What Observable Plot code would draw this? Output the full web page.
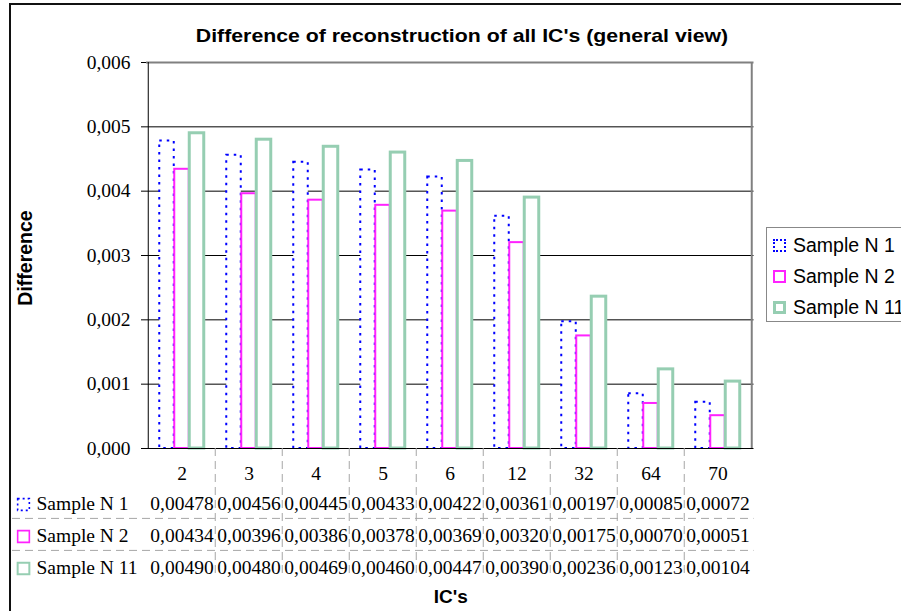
<!DOCTYPE html>
<html>
<head>
<meta charset="utf-8">
<script src="https://cdn.jsdelivr.net/npm/d3@7"></script>
<script src="https://cdn.jsdelivr.net/npm/@observablehq/plot@0.6"></script>
<style>
  html, body { margin: 0; padding: 0; background: #fff; overflow: hidden; }
  #chart { position: relative; width: 901px; height: 611px; overflow: hidden; background: #fff; }
  #chart > * { position: absolute; }
  #chart svg { overflow: visible; background: transparent !important; }
  .outer { left: 9px; top: 3px; width: 1200px; height: 1200px; border-left: 2.5px solid #111; border-top: 2px solid #111; }
  .sans { font-family: "Liberation Sans", Arial, sans-serif; font-weight: bold; line-height: 1; color: #000; white-space: nowrap; }
  .title { left: 0; width: 924px; top: 26.8px; font-size: 18.5px; text-align: center; transform: scaleX(1.15); transform-origin: 462px 0; }
  .xlabel { left: 400px; width: 101.6px; top: 586.9px; font-size: 19px; text-align: center; }
  .ylabel { left: 25.5px; top: 258px; font-size: 19.5px; transform: translate(-50%, -50%) rotate(-90deg); }
  .legend { left: 766px; top: 227px; width: 170px; height: 95px; box-sizing: border-box; border: 1.5px solid #888; background: #fff; }
  .legend .item { position: absolute; left: 26px; font-family: "Liberation Sans", Arial, sans-serif; font-size: 19.5px; line-height: 1; white-space: nowrap; }
  .legend .key { position: absolute; left: 6px; width: 13px; height: 13px; box-sizing: border-box; background: #fff; }
</style>
</head>
<body>
<div id="chart">
  <div class="outer"></div>
</div>
<script>
// Categories (number of ICs) and the three samples' differences
const categories = ["2", "3", "4", "5", "6", "12", "32", "64", "70"];
const seriesNames = ["Sample N 1", "Sample N 2", "Sample N 11"];
const sampleN1 = [0.00478, 0.00456, 0.00445, 0.00433, 0.00422, 0.00361, 0.00197, 0.00085, 0.00072];
const sampleN2 = [0.00434, 0.00396, 0.00386, 0.00378, 0.00369, 0.00320, 0.00175, 0.00070, 0.00051];
const sampleN11 = [0.00490, 0.00480, 0.00469, 0.00460, 0.00447, 0.00390, 0.00236, 0.00123, 0.00104];
const yTicks = [0, 0.001, 0.002, 0.003, 0.004, 0.005, 0.006];

const titleText = "Difference of reconstruction of all IC's (general view)";
const yLabelText = "Difference";
const xLabelText = "IC's";

// Long-format rows built from the arrays above
const seriesValues = [sampleN1, sampleN2, sampleN11];
const rows = seriesNames.flatMap((name, s) =>
  categories.map((cat, i) => ({series: name, cat, value: seriesValues[s][i]}))
);

// Drawing styles per series
const styles = {
  "Sample N 1": {stroke: "#0000ff", strokeWidth: 2, strokeDasharray: "2.5,5", css: "2px dotted #0000ff"},
  "Sample N 2": {stroke: "#ff22ff", strokeWidth: 2, strokeDasharray: null, css: "2px solid #ff22ff"},
  "Sample N 11": {stroke: "#96ceb2", strokeWidth: 3, strokeDasharray: null, css: "3px solid #96ceb2"}
};

// Comma decimal separator
const locale = d3.formatLocale({decimal: ",", thousands: " ", grouping: [3], currency: ["", ""]});
const fmtTick = locale.format(".3f");
const fmtValue = locale.format(".5f");

// Layout of the plot area
const W = 901;
const plotLeft = 146, plotRight = 753.5, plotTop = 62, plotBottom = 448;
const step = (plotRight - plotLeft) / categories.length;
const gapWidth = 1.5; // gap between groups, in bar widths
const barW = step / (seriesNames.length + gapWidth);
const serif = "'Liberation Serif', 'Times New Roman', serif";

const barMarks = seriesNames.map((name, s) => {
  const st = styles[name];
  return Plot.barY(rows.filter(d => d.series === name), {
    x: "cat",
    y: "value",
    fill: "white",
    stroke: st.stroke,
    strokeWidth: st.strokeWidth,
    strokeDasharray: st.strokeDasharray,
    insetLeft: barW * gapWidth / 2 + s * barW,
    insetRight: step - barW * gapWidth / 2 - (s + 1) * barW
  });
});

const chart = Plot.plot({
  width: W,
  height: plotBottom + 22,
  marginTop: plotTop,
  marginBottom: 22,
  marginLeft: plotLeft,
  marginRight: W - plotRight,
  style: {fontFamily: serif, fontSize: "19.5px", color: "#000", background: "transparent"},
  x: {type: "band", domain: categories, padding: 0, axis: null},
  y: {domain: [0, 0.006]},
  marks: [
    Plot.ruleY(yTicks.slice(1, -1), {stroke: "#000", strokeWidth: 1}),
    ...barMarks,
    Plot.ruleY([yTicks[yTicks.length - 1]], {stroke: "#808080", strokeWidth: 2}),
    Plot.ruleX([categories[categories.length - 1]], {dx: step / 2, stroke: "#808080", strokeWidth: 2}),
    Plot.ruleX([categories[0]], {dx: -step / 2, stroke: "#000", strokeWidth: 1}),
    Plot.ruleY([0], {stroke: "#000", strokeWidth: 1}),
    Plot.axisY({ticks: yTicks, tickFormat: fmtTick, tickSize: 5, tickPadding: 11, label: null, stroke: "#000", fill: "#000"})
  ]
});
chart.style.left = "0px";
chart.style.top = "0px";

// Data table under the chart
const tableMarks = [
  // vertical separators between categories
  Plot.ruleX(categories.slice(1), {dx: -step / 2, stroke: "#a6a6a6", strokeWidth: 1, strokeDasharray: "8,5"}),
  // horizontal separators between rows
  Plot.ruleY(seriesNames.slice(1), {dy: -32.2 / 2, stroke: "#a6a6a6", strokeWidth: 1, strokeDasharray: "8,5"}),
  // category labels
  Plot.text(categories, {x: d => d, text: d => d, frameAnchor: "top", dy: 17.5, fill: "#000"}),
  // values
  Plot.text(rows, {x: "cat", y: "series", text: d => fmtValue(d.value), dy: 1.2, fill: "#000"}),
  // row labels
  Plot.text(seriesNames, {y: d => d, text: d => d, frameAnchor: "left", textAnchor: "start", dx: 24, dy: 1.2, fill: "#000"}),
  // row keys
  ...seriesNames.map(name => Plot.dot([name], {
    y: d => d, frameAnchor: "left", dx: 11, dy: 2, symbol: "square", r: 6.6, fill: "white",
    stroke: styles[name].stroke, strokeWidth: styles[name].strokeWidth === 3 ? 2 : 1.6,
    strokeDasharray: styles[name].strokeDasharray ? "2,3" : null
  }))
];

const table = Plot.plot({
  width: W,
  height: 130,
  marginTop: 0,
  marginBottom: 0,
  marginLeft: 12,
  marginRight: W - plotRight,
  style: {fontFamily: serif, fontSize: "19.5px", color: "#000", background: "transparent"},
  x: {type: "band", domain: categories, range: [plotLeft, plotRight], padding: 0, axis: null},
  y: {type: "band", domain: seriesNames, range: [37.5, 37.5 + 3 * 32.2], padding: 0, axis: null},
  marks: tableMarks
});
table.style.left = "0px";
table.style.top = plotBottom + "px";

const root = document.getElementById("chart");
root.appendChild(chart);
root.appendChild(table);

// Titles
function addText(cls, text) {
  const el = document.createElement("div");
  el.className = "sans " + cls;
  el.textContent = text;
  root.appendChild(el);
  return el;
}
addText("title", titleText);
addText("xlabel", xLabelText);
addText("ylabel", yLabelText);

// Legend
const legend = document.createElement("div");
legend.className = "legend";
seriesNames.forEach((name, i) => {
  const key = document.createElement("span");
  key.className = "key";
  key.style.top = (11 + i * 31) + "px";
  key.style.border = styles[name].css;
  legend.appendChild(key);
  const item = document.createElement("span");
  item.className = "item";
  item.style.top = (8.2 + i * 31) + "px";
  item.textContent = name;
  legend.appendChild(item);
});
root.appendChild(legend);
</script>
</body>
</html>
